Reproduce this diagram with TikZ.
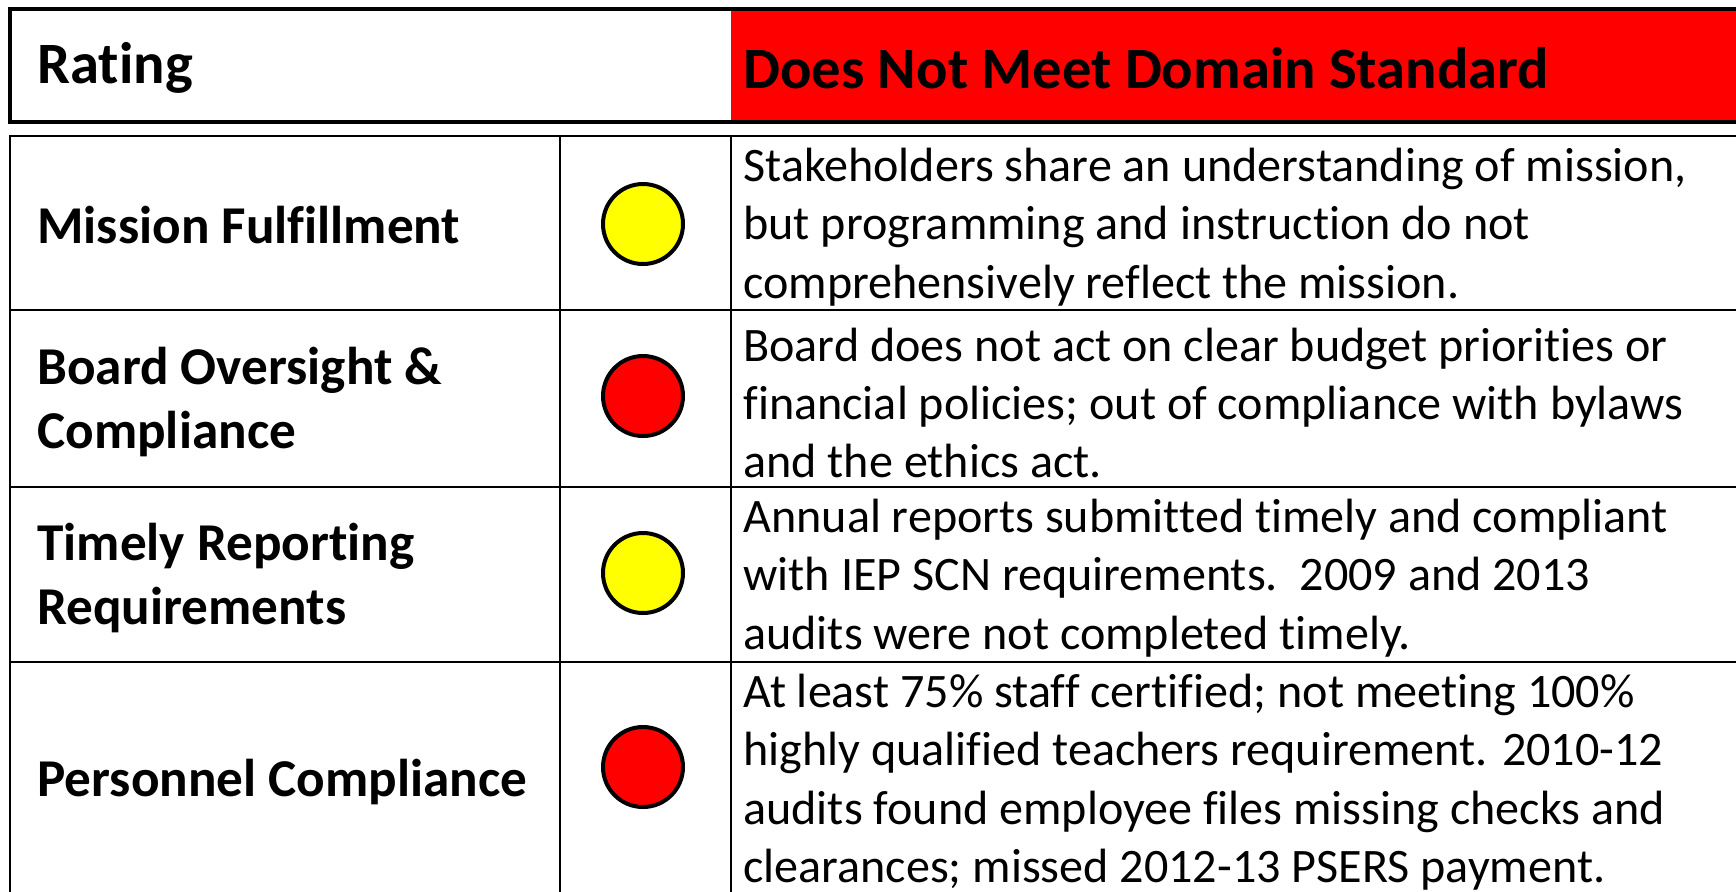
\documentclass[tikz,border=0pt]{standalone}
\usepackage{fontspec}
\setmainfont{Carlito}[Ligatures=NoCommon]
\usepackage{xcolor}
\definecolor{ratered}{RGB}{255,0,0}
\definecolor{rateyellow}{RGB}{255,255,0}

\begin{document}
\begin{tikzpicture}[x=0.5pt,y=-0.5pt,
    headtext/.style={anchor=west,inner sep=0pt,font=\fontsize{29.3}{35.5}\selectfont\bfseries},
    rowlabel/.style={anchor=west,inner sep=0pt,align=left,font=\fontsize{26.6}{32.2}\selectfont\bfseries},
    rowdesc/.style={anchor=west,inner sep=0pt,align=left,font=\fontsize{24.05}{29.2}\selectfont},
    ratedot/.style={circle,draw=black,line width=2pt,minimum size=40pt,inner sep=0pt}]
	\useasboundingbox (0,0) rectangle (1736,891);
	\clip (0,0) rectangle (1736,891);

	% corners of the header and of the table
	\coordinate (h1) at (10,9);
	\coordinate (h2) at (1760,122);
	\coordinate (r1) at (731,11);
	\coordinate (r2) at (1760,120);
	\coordinate (t1) at (10,136);
	\coordinate (t2) at (1760,910);

	% draw the header
	\fill[ratered] (r1) rectangle (r2);
	\draw[line width=1.75pt] (h1) rectangle (h2);
	\node[headtext] (rating) at (37,68) {Rating};
	\node[headtext] (standard) at (743,68) {Does Not Meet Domain Standard};

	% draw the table grid
	\coordinate (c1t) at (560,136);
	\coordinate (c1b) at (560,910);
	\coordinate (c2t) at (731,136);
	\coordinate (c2b) at (731,910);
	\coordinate (s1l) at (10,310);
	\coordinate (s1r) at (1760,310);
	\coordinate (s2l) at (10,487);
	\coordinate (s2r) at (1760,487);
	\coordinate (s3l) at (10,662);
	\coordinate (s3r) at (1760,662);
	\draw[line width=1.1pt] (t1) rectangle (t2);
	\draw[line width=1.1pt] (c1t) -- (c1b) (c2t) -- (c2b);
	\draw[line width=1.1pt] (s1l) -- (s1r) (s2l) -- (s2r) (s3l) -- (s3r);

	% draw the rows
	\node[rowlabel] (mission) at (37,225) {Mission Fulfillment};
	\node[ratedot,fill=rateyellow] (dot1) at (643,224) {};
	\node[rowdesc] (desc1) at (743,227) {Stakeholders share an understanding of mission,\\but programming and instruction do not\\comprehensively reflect the mission.};

	\node[rowlabel] (board) at (37,402) {Board Oversight \&\\Compliance};
	\node[ratedot,fill=ratered] (dot2) at (643,396) {};
	\node[rowdesc] (desc2) at (743,403) {Board does not act on clear budget priorities or\\financial policies; out of compliance with bylaws\\and the ethics act.};

	\node[rowlabel] (timely) at (37,578) {Timely Reporting\\Requirements};
	\node[ratedot,fill=rateyellow] (dot3) at (643,573) {};
	\node[rowdesc] (desc3) at (743,578) {Annual reports submitted timely and compliant\\with IEP SCN requirements.\ \ 2009 and 2013\\audits were not completed timely.};

	\node[rowlabel] (personnel) at (37,782) {Personnel Compliance};
	\node[ratedot,fill=ratered] (dot4) at (643,767) {};
	\node[rowdesc] (desc4) at (743,782) {At least 75\% staff certified; not meeting 100\%\\highly qualified teachers requirement. 2010-12\\audits found employee files missing checks and\\clearances; missed 2012-13 PSERS payment.};
\end{tikzpicture}
\end{document}
